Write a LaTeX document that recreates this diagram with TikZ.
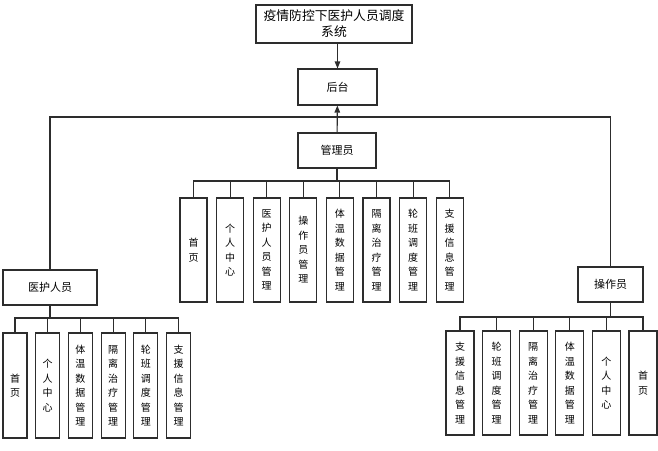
\documentclass[tikz,border=0pt]{standalone}
\usepackage{fontspec}
\newfontfamily\cjk{Noto Sans CJK SC}
\usetikzlibrary{arrows.meta,positioning,calc}
\definecolor{ink}{RGB}{45,45,45}
\tikzset{
  box/.style={draw=ink,line width=1.1pt,fill=white,inner sep=0pt,
    font=\cjk\fontsize{11}{14}\selectfont,align=center},
  leaf/.style={box,minimum width=27pt,minimum height=104pt,
    font=\cjk\fontsize{10}{14.5}\selectfont},
  wire/.style={line width=1.1pt,ink},
  arr/.style={-{Triangle[length=7pt,width=5.5pt]},line width=1.1pt,ink},
}

\begin{document}
\begin{tikzpicture}[x=1pt,y=-1pt]
  \useasboundingbox (0,0) rectangle (658,450);
  % top levels
  \node[box,minimum width=156pt,minimum height=38pt,
    font=\cjk\fontsize{12.8}{16}\selectfont] (sys) at (334,24)
    {疫情防控下医护人员调度\\系统};
  \node[box,minimum width=79pt,minimum height=36pt] (bg) at (337.5,87) {后台};
  \node[box,minimum width=78pt,minimum height=35pt] (admin) at (337,150.5) {管理员};
  \node[box,minimum width=94pt,minimum height=35pt] (med) at (50,287.5) {医护人员};
  \node[box,minimum width=65pt,minimum height=35pt] (oper) at (610.5,284.5) {操作员};
  \coordinate (hub) at (337,117);
  \draw[arr] (sys.south -| bg) -- (bg);
  \draw[arr] (admin) -- (bg);
  \draw[wire] (med.north) |- (hub) -| (oper.north);
  % admin leaves
  \coordinate (abus) at (337,181);
  \draw[wire] (admin) -- (abus);
  \foreach \t [count=\i] in {{首\\页},{个\\人\\中\\心},{医\\护\\人\\员\\管\\理},
      {操\\作\\员\\管\\理},{体\\温\\数\\据\\管\\理},{隔\\离\\治\\疗\\管\\理},
      {轮\\班\\调\\度\\管\\理},{支\\援\\信\\息\\管\\理}}{
    \node[leaf] (a\i) at ({193.5+36.6*(\i-1)},250) {\t};
    \draw[wire] (abus) -| (a\i.north);
  }
  % medical staff leaves
  \coordinate (mbus) at (50,318);
  \draw[wire] (med) -- (mbus);
  \foreach \t [count=\i] in {{首\\页},{个\\人\\中\\心},{体\\温\\数\\据\\管\\理},
      {隔\\离\\治\\疗\\管\\理},{轮\\班\\调\\度\\管\\理},{支\\援\\信\\息\\管\\理}}{
    \node[leaf,minimum width=24pt,minimum height=105pt] (m\i)
      at ({15+32.7*(\i-1)},385.5) {\t};
    \draw[wire] (mbus) -| (m\i.north);
  }
  % operator leaves
  \coordinate (obus) at (610.5,317);
  \draw[wire] (oper) -- (obus);
  \foreach \t [count=\i] in {{支\\援\\信\\息\\管\\理},{轮\\班\\调\\度\\管\\理},
      {隔\\离\\治\\疗\\管\\理},{体\\温\\数\\据\\管\\理},{个\\人\\中\\心},{首\\页}}{
    \node[leaf,minimum width=28pt] (o\i) at ({460+36.6*(\i-1)},383) {\t};
    \draw[wire] (obus) -| (o\i.north);
  }
\end{tikzpicture}
\end{document}
